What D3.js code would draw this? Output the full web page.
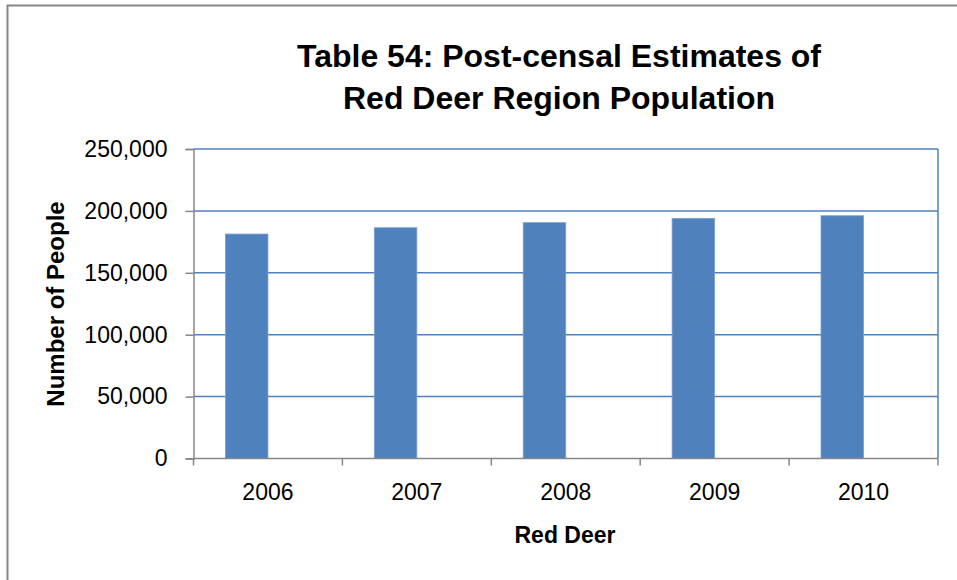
<!doctype html>
<html lang="en">
<head>
  <title>Red Deer Region Population</title>
  <script src="https://d3js.org/d3.v7.min.js"></script>
  <style>
    body { margin: 0; background: #fff; }
    svg { display: block; }
    text { font-family: "Liberation Sans", Arial, sans-serif; fill: #000; }
  </style>
</head>
<body>
  <div id="container"></div>
  <script>
    // data
    var years = ["2006", "2007", "2008", "2009", "2010"];
    var population = [181300, 186400, 190500, 194000, 196100];
    var yTicks = [0, 50000, 100000, 150000, 200000, 250000];
    // Excel drew this as a clustered bar with an empty second series
    var seriesNames = ["Red Deer", "(empty)"];

    var W = 957, H = 580;
    var margin = { top: 149, right: 19, bottom: 121.5, left: 193.5 },
        width = W - margin.left - margin.right,
        height = H - margin.top - margin.bottom;

    var svg = d3.select("#container").append("svg")
      .attr("width", W)
      .attr("height", H);

    // outer chart border (runs past right/bottom edge of the picture)
    svg.append("rect")
      .attr("x", 7.5).attr("y", 5.5)
      .attr("width", W + 20).attr("height", H + 20)
      .attr("fill", "none")
      .attr("stroke", "#868686")
      .attr("stroke-width", 2);

    var g = svg.append("g")
      .attr("transform", "translate(" + margin.left + "," + margin.top + ")");

    var x = d3.scaleBand().domain(years).range([0, width]).padding(0);
    var xs = d3.scaleBand().domain(seriesNames).range([0, x.bandwidth()])
      .paddingInner(0).paddingOuter(0.75);
    var y = d3.scaleLinear().domain([0, 250000]).range([height, 0]);

    // gridlines
    g.selectAll("line.grid")
      .data(yTicks.filter(function(d) { return d > 0; }))
      .enter().append("line")
      .attr("class", "grid")
      .attr("x1", 0).attr("x2", width)
      .attr("y1", function(d) { return y(d); })
      .attr("y2", function(d) { return y(d); })
      .attr("stroke", "#4f81bd")
      .attr("stroke-width", 1.5);

    // plot area right border
    g.append("line")
      .attr("x1", width).attr("x2", width)
      .attr("y1", 0).attr("y2", height)
      .attr("stroke", "#4f81bd")
      .attr("stroke-width", 1.5);

    // bars
    g.selectAll("rect.bar")
      .data(years)
      .enter().append("rect")
      .attr("class", "bar")
      .attr("x", function(d) { return x(d) + xs("Red Deer"); })
      .attr("width", xs.bandwidth())
      .attr("y", function(d, i) { return y(population[i]); })
      .attr("height", function(d, i) { return height - y(population[i]); })
      .attr("fill", "#4f81bd")
      .attr("stroke", "#7d9fcf")
      .attr("stroke-width", 0.8);

    // y axis
    var yAxis = g.append("g")
      .call(d3.axisLeft(y).tickValues(yTicks).tickSize(8).tickPadding(18)
        .tickFormat(d3.format(",")));
    yAxis.select(".domain").attr("stroke", "#868686").attr("stroke-width", 1.5);
    yAxis.selectAll(".tick line").attr("stroke", "#868686").attr("stroke-width", 1.5);
    yAxis.selectAll("text").style("font-size", "23px");

    // x axis: ticks on band boundaries
    var xAxis = g.append("g").attr("transform", "translate(0," + height + ")");
    xAxis.append("line")
      .attr("x1", 0).attr("x2", width)
      .attr("stroke", "#868686").attr("stroke-width", 1.5);
    xAxis.selectAll("line.tk")
      .data(years.concat(["end"]))
      .enter().append("line")
      .attr("class", "tk")
      .attr("x1", function(d, i) { return i * x.step(); })
      .attr("x2", function(d, i) { return i * x.step(); })
      .attr("y1", 0).attr("y2", 7)
      .attr("stroke", "#868686").attr("stroke-width", 1.5);
    xAxis.selectAll("text")
      .data(years)
      .enter().append("text")
      .attr("x", function(d) { return x(d) + x.bandwidth() / 2; })
      .attr("y", 41)
      .attr("text-anchor", "middle")
      .style("font-size", "23px")
      .text(function(d) { return d; });

    // titles
    var title = svg.append("text")
      .attr("text-anchor", "middle")
      .style("font-size", "32px")
      .style("font-weight", "bold");
    title.append("tspan").attr("x", 559).attr("y", 67).text("Table 54: Post-censal Estimates of");
    title.append("tspan").attr("x", 559).attr("y", 109).text("Red Deer Region Population");

    svg.append("text")
      .attr("x", 565).attr("y", 543)
      .attr("text-anchor", "middle")
      .style("font-size", "23px")
      .style("font-weight", "bold")
      .text("Red Deer");

    svg.append("text")
      .attr("transform", "translate(64,304) rotate(-90)")
      .attr("text-anchor", "middle")
      .style("font-size", "24px")
      .style("font-weight", "bold")
      .text("Number of People");
  </script>
</body>
</html>
